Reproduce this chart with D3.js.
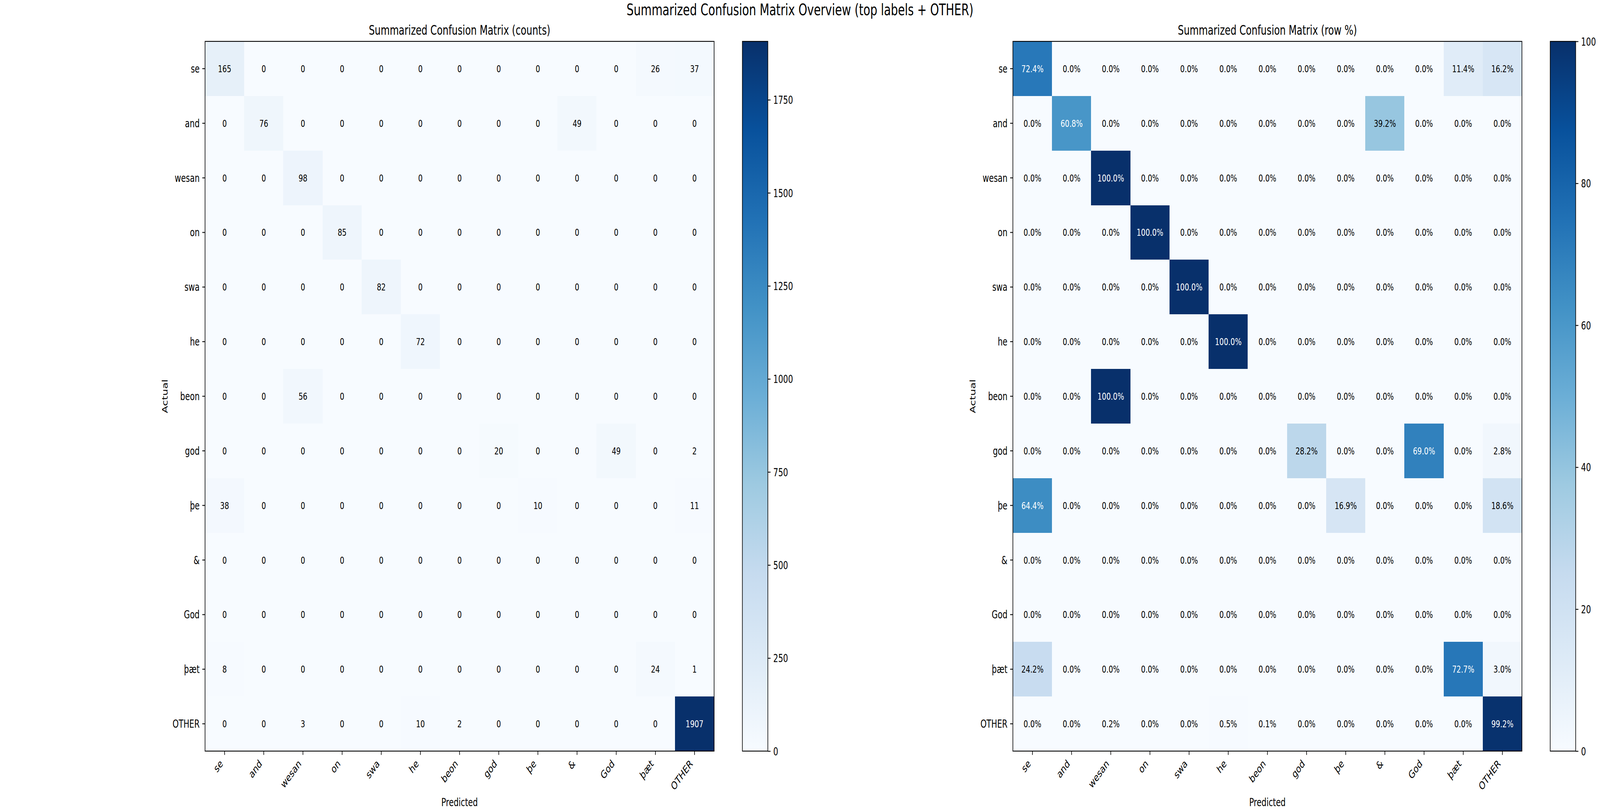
<!DOCTYPE html>
<html>
<head>
<meta charset="utf-8">
<script src="https://cdn.jsdelivr.net/npm/d3@7"></script>
<style>
  html, body { margin: 0; padding: 0; background: #fff; overflow: hidden; }
  text { font-family: "DejaVu Sans", sans-serif; fill: #000; }
</style>
</head>
<body>
<div class="chart"></div>
<script>
// labels used for both axes (rows = actual, columns = predicted)
var labels = ["se", "and", "wesan", "on", "swa", "he", "beon", "god", "þe", "&", "God", "þæt", "OTHER"];

// counts read from the left matrix
var countRows = [
  [165, 0, 0, 0, 0, 0, 0, 0, 0, 0, 0, 26, 37],
  [0, 76, 0, 0, 0, 0, 0, 0, 0, 49, 0, 0, 0],
  [0, 0, 98, 0, 0, 0, 0, 0, 0, 0, 0, 0, 0],
  [0, 0, 0, 85, 0, 0, 0, 0, 0, 0, 0, 0, 0],
  [0, 0, 0, 0, 82, 0, 0, 0, 0, 0, 0, 0, 0],
  [0, 0, 0, 0, 0, 72, 0, 0, 0, 0, 0, 0, 0],
  [0, 0, 56, 0, 0, 0, 0, 0, 0, 0, 0, 0, 0],
  [0, 0, 0, 0, 0, 0, 0, 20, 0, 0, 49, 0, 2],
  [38, 0, 0, 0, 0, 0, 0, 0, 10, 0, 0, 0, 11],
  [0, 0, 0, 0, 0, 0, 0, 0, 0, 0, 0, 0, 0],
  [0, 0, 0, 0, 0, 0, 0, 0, 0, 0, 0, 0, 0],
  [8, 0, 0, 0, 0, 0, 0, 0, 0, 0, 0, 24, 1],
  [0, 0, 3, 0, 0, 10, 2, 0, 0, 0, 0, 0, 1907]
];

// row percentages read from the right matrix
var pctRows = [
  [72.4, 0, 0, 0, 0, 0, 0, 0, 0, 0, 0, 11.4, 16.2],
  [0, 60.8, 0, 0, 0, 0, 0, 0, 0, 39.2, 0, 0, 0],
  [0, 0, 100, 0, 0, 0, 0, 0, 0, 0, 0, 0, 0],
  [0, 0, 0, 100, 0, 0, 0, 0, 0, 0, 0, 0, 0],
  [0, 0, 0, 0, 100, 0, 0, 0, 0, 0, 0, 0, 0],
  [0, 0, 0, 0, 0, 100, 0, 0, 0, 0, 0, 0, 0],
  [0, 0, 100, 0, 0, 0, 0, 0, 0, 0, 0, 0, 0],
  [0, 0, 0, 0, 0, 0, 0, 28.2, 0, 0, 69.0, 0, 2.8],
  [64.4, 0, 0, 0, 0, 0, 0, 0, 16.9, 0, 0, 0, 18.6],
  [0, 0, 0, 0, 0, 0, 0, 0, 0, 0, 0, 0, 0],
  [0, 0, 0, 0, 0, 0, 0, 0, 0, 0, 0, 0, 0],
  [24.2, 0, 0, 0, 0, 0, 0, 0, 0, 0, 0, 72.7, 3.0],
  [0, 0, 0.2, 0, 0, 0.5, 0.1, 0, 0, 0, 0, 0, 99.2]
];

// colorbar ticks
var countTicks = [0, 250, 500, 750, 1000, 1250, 1500, 1750];
var pctTicks = [0, 20, 40, 60, 80, 100];

// matplotlib "Blues" anchor colours
var blues = ["#f7fbff", "#deebf7", "#c6dbef", "#9ecae1", "#6baed6",
             "#4292c6", "#2171b5", "#08519c", "#08306b"];

var svgWidth = 5720;
var svgHeight = 2080;

// draw in figure pixels, the viewBox fits it to whatever window we get
var svg = d3.select(".chart")
  .append("svg")
  .attr("viewBox", `0 0 ${svgWidth} ${svgHeight}`)
  .attr("preserveAspectRatio", "none")
  .style("display", "block")
  .style("width", "100vw")
  .style("height", "100vh");

svg.append("rect")
  .attr("width", svgWidth)
  .attr("height", svgHeight)
  .attr("fill", "#fff");

// sizes in px (figure saved at 200 dpi)
var tickFont = 27.8;
var cellFont = 25;
var titleFont = 33.3;
var tickLen = 9.7;
var spineW = 2.2;

var plotTop = 106;
var plotW = 1820;
var plotH = 1818;

svg.append("text")
  .attr("x", svgWidth / 2)
  .attr("y", 39)
  .attr("text-anchor", "middle")
  .style("font-size", "40px")
  .text("Summarized Confusion Matrix Overview (top labels + OTHER)");

function drawMatrix(opt) {
  var maxVal = d3.max(opt.rows, r => d3.max(r));

  var x = d3.scaleBand().domain(labels).range([opt.left, opt.left + plotW]);
  var y = d3.scaleBand().domain(labels).range([plotTop, plotTop + plotH]);

  var color = d3.scaleLinear()
    .domain(blues.map((c, i) => maxVal * i / (blues.length - 1)))
    .range(blues)
    .interpolate(d3.interpolateRgb);

  var cells = [];
  opt.rows.forEach(function(row, i) {
    row.forEach(function(v, j) {
      cells.push({ actual: labels[i], pred: labels[j], value: v });
    });
  });

  var g = svg.append("g");

  g.selectAll("rect.cell")
    .data(cells)
    .enter()
    .append("rect")
    .attr("class", "cell")
    .attr("x", d => x(d.pred))
    .attr("y", d => y(d.actual))
    .attr("width", x.bandwidth() + 0.5)
    .attr("height", y.bandwidth() + 0.5)
    .attr("fill", d => color(d.value))
    .attr("shape-rendering", "crispEdges");

  g.selectAll("text.cell")
    .data(cells)
    .enter()
    .append("text")
    .attr("class", "cell")
    .attr("x", d => x(d.pred) + x.bandwidth() / 2)
    .attr("y", d => y(d.actual) + y.bandwidth() / 2)
    .attr("dy", "0.36em")
    .attr("text-anchor", "middle")
    .style("font-size", cellFont + "px")
    .style("fill", d => d.value > maxVal / 2 ? "#fff" : "#000")
    .text(d => opt.fmt(d.value));

  // frame
  g.append("rect")
    .attr("x", opt.left)
    .attr("y", plotTop)
    .attr("width", plotW)
    .attr("height", plotH)
    .attr("fill", "none")
    .attr("stroke", "#000")
    .attr("stroke-width", spineW);

  // y axis
  var yAxis = g.append("g")
    .attr("transform", `translate(${opt.left}, 0)`)
    .call(d3.axisLeft(y).tickSize(tickLen).tickPadding(tickLen));
  yAxis.select(".domain").remove();
  yAxis.selectAll("line").attr("stroke-width", spineW);
  yAxis.selectAll("text")
    .attr("dy", "0.36em")
    .style("font-size", tickFont + "px")
    .style("font-family", "DejaVu Sans");

  // x axis, labels turned 45 degrees
  var xAxis = g.append("g")
    .attr("transform", `translate(0, ${plotTop + plotH})`)
    .call(d3.axisBottom(x).tickSize(tickLen));
  xAxis.select(".domain").remove();
  xAxis.selectAll("line").attr("stroke-width", spineW);
  xAxis.selectAll("text")
    .attr("x", 0)
    .attr("y", 0)
    .attr("dy", 0)
    .attr("transform", "translate(-4.5, 34) rotate(-45)")
    .attr("text-anchor", "end")
    .style("font-size", tickFont + "px")
    .style("font-family", "DejaVu Sans");

  g.append("text")
    .attr("x", opt.left + plotW / 2)
    .attr("y", 89)
    .attr("text-anchor", "middle")
    .style("font-size", titleFont + "px")
    .text(opt.title);

  g.append("text")
    .attr("x", opt.left + plotW / 2)
    .attr("y", 2065)
    .attr("text-anchor", "middle")
    .style("font-size", tickFont + "px")
    .text("Predicted");

  g.append("text")
    .attr("transform", `translate(${opt.left - 134}, ${plotTop + plotH / 2}) rotate(-90)`)
    .attr("text-anchor", "middle")
    .style("font-size", tickFont + "px")
    .text("Actual");

  // colorbar
  var cbX = opt.left + plotW + 101;
  var cbW = 91;
  var cbScale = d3.scaleLinear().domain([0, maxVal]).range([plotTop + plotH, plotTop]);

  var grad = svg.append("defs")
    .append("linearGradient")
    .attr("id", opt.id)
    .attr("x1", 0).attr("y1", 1)
    .attr("x2", 0).attr("y2", 0);
  grad.selectAll("stop")
    .data(color.domain())
    .enter()
    .append("stop")
    .attr("offset", d => d / maxVal)
    .attr("stop-color", d => color(d));

  g.append("rect")
    .attr("x", cbX)
    .attr("y", plotTop)
    .attr("width", cbW)
    .attr("height", plotH)
    .attr("fill", `url(#${opt.id})`)
    .attr("stroke", "#000")
    .attr("stroke-width", spineW);

  var cAxis = g.append("g")
    .attr("transform", `translate(${cbX + cbW}, 0)`)
    .call(d3.axisRight(cbScale)
      .tickValues(opt.ticks)
      .tickFormat(d3.format("d"))
      .tickSize(tickLen)
      .tickPadding(tickLen));
  cAxis.select(".domain").remove();
  cAxis.selectAll("line").attr("stroke-width", spineW);
  cAxis.selectAll("text")
    .attr("dy", "0.36em")
    .style("font-size", tickFont + "px")
    .style("font-family", "DejaVu Sans");
}

drawMatrix({
  id: "cbCounts",
  left: 733,
  rows: countRows,
  ticks: countTicks,
  fmt: d3.format("d"),
  title: "Summarized Confusion Matrix (counts)"
});

drawMatrix({
  id: "cbPct",
  left: 3621,
  rows: pctRows,
  ticks: pctTicks,
  fmt: v => d3.format(".1f")(v) + "%",
  title: "Summarized Confusion Matrix (row %)"
});
</script>
</body>
</html>
